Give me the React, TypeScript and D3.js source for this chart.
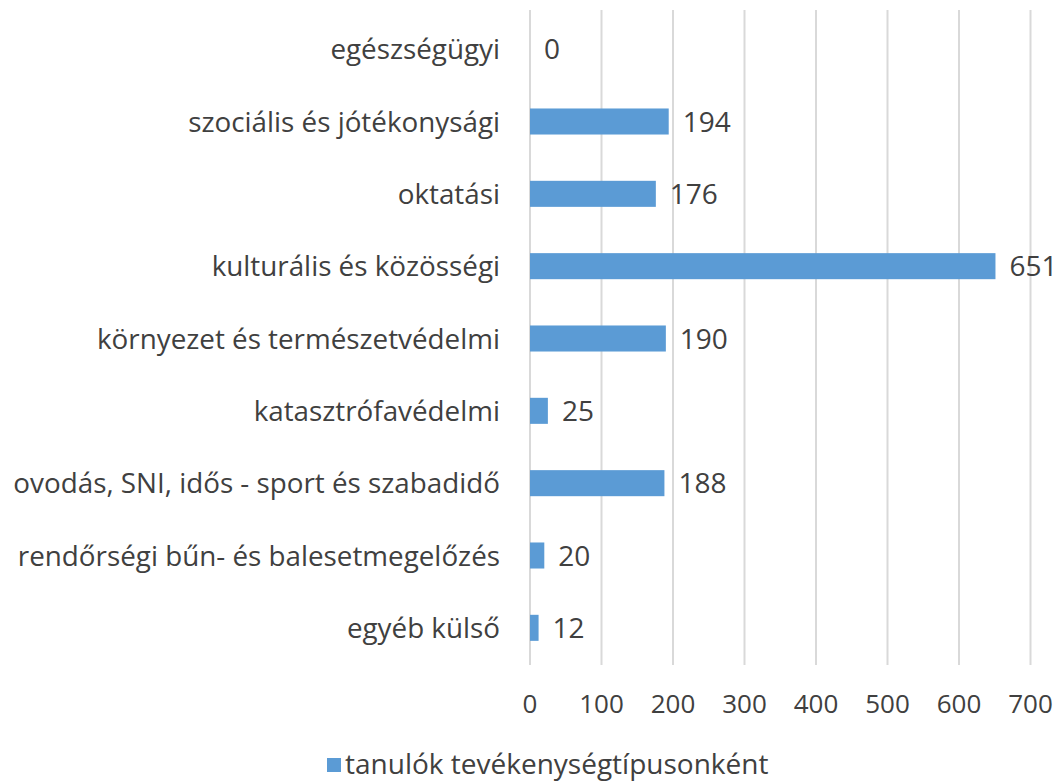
import React, { useRef, useEffect } from 'react';
import * as d3 from 'd3';

const categories = [
  'egészségügyi',
  'szociális és jótékonysági',
  'oktatási',
  'kulturális és közösségi',
  'környezet és természetvédelmi',
  'katasztrófavédelmi',
  'ovodás, SNI, idős - sport és szabadidő',
  'rendőrségi bűn- és balesetmegelőzés',
  'egyéb külső',
];
const values = [0, 194, 176, 651, 190, 25, 188, 20, 12];
const ticks = [0, 100, 200, 300, 400, 500, 600, 700];
const seriesName = 'tanulók tevékenységtípusonként';

const W = 1061;
const H = 783;
const FONT = '"Open Sans", "Segoe UI", sans-serif';
const TEXT = '#404040';
const BAR = '#5B9BD5';

const App = () => {
  const svgRef = useRef<SVGSVGElement>(null);

  useEffect(() => {
    if (!svgRef.current) return;
    const svg = d3.select(svgRef.current);
    svg.selectAll('*').remove();

    const x = d3.scaleLinear().domain([0, 700]).range([530, 1030.5]);
    const y = d3.scaleBand().domain(categories).range([13, 664]).paddingInner(0.64).paddingOuter(0.32);

    // gridlines
    svg.append('g')
      .selectAll('line')
      .data(ticks)
      .enter()
      .append('line')
      .attr('x1', d => x(d))
      .attr('x2', d => x(d))
      .attr('y1', 10)
      .attr('y2', 665)
      .attr('stroke', '#d9d9d9')
      .attr('stroke-width', 2);

    // bars
    svg.append('g')
      .selectAll('rect')
      .data(values)
      .enter()
      .append('rect')
      .attr('x', x(0))
      .attr('y', (d, i) => y(categories[i])!)
      .attr('width', d => x(d) - x(0))
      .attr('height', y.bandwidth())
      .attr('fill', BAR);

    // value labels
    svg.append('g')
      .selectAll('text')
      .data(values)
      .enter()
      .append('text')
      .attr('x', d => x(d) + 14)
      .attr('y', (d, i) => y(categories[i])! + y.bandwidth() / 2)
      .attr('dy', '0.36em')
      .attr('fill', TEXT)
      .attr('font-family', FONT)
      .attr('font-size', 28)
      .text(d => d);

    // category labels
    svg.append('g')
      .selectAll('text')
      .data(categories)
      .enter()
      .append('text')
      .attr('x', 500)
      .attr('y', d => y(d)! + y.bandwidth() / 2)
      .attr('dy', '0.36em')
      .attr('text-anchor', 'end')
      .attr('fill', TEXT)
      .attr('font-family', FONT)
      .attr('font-size', 27.8)
      .text(d => d);

    // tick labels
    svg.append('g')
      .selectAll('text')
      .data(ticks)
      .enter()
      .append('text')
      .attr('x', d => x(d))
      .attr('y', 704)
      .attr('dy', '0.36em')
      .attr('text-anchor', 'middle')
      .attr('fill', TEXT)
      .attr('font-family', FONT)
      .attr('font-size', 26)
      .text(d => d);

    // legend
    const lg = svg.append('g');
    lg.append('rect').attr('x', 327).attr('y', 758).attr('width', 14).attr('height', 14).attr('fill', BAR);
    lg.append('text')
      .attr('x', 345)
      .attr('y', 764)
      .attr('dy', '0.36em')
      .attr('fill', TEXT)
      .attr('font-family', FONT)
      .attr('font-size', 28)
      .text(seriesName);
  }, []);

  return (
    <svg
      ref={svgRef}
      width={W}
      height={H}
      style={{ position: 'absolute', left: 0, top: 0, background: '#fff' }}
    />
  );
};

export default App;
